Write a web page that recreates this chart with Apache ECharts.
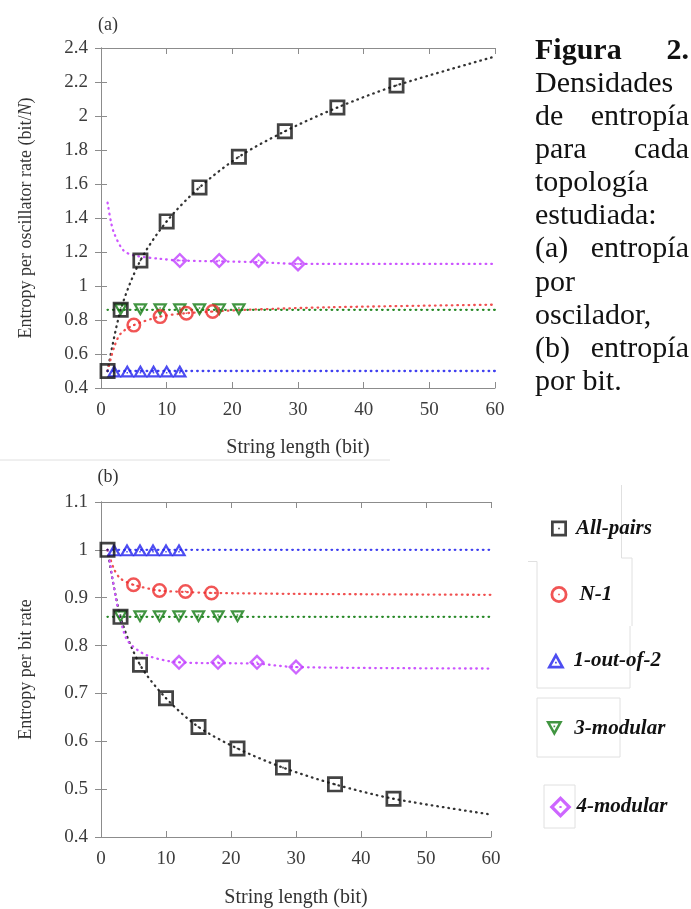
<!DOCTYPE html>
<html>
<head>
<meta charset="utf-8">
<script src="https://cdn.jsdelivr.net/npm/echarts@6/dist/echarts.min.js"></script>
<style>
html,body{margin:0;padding:0;background:#fff;}
#c{width:691px;height:909px;}
</style>
</head>
<body>
<div id="c"></div>
<script>
// ---------------- data ----------------
const xMin = 0, xMax = 60, xStep = 10;
const yMinA = 0.4, yMaxA = 2.4, yStepA = 0.2;
const yMinB = 0.4, yMaxB = 1.1, yStepB = 0.1;

const seriesNames = ['All-pairs', 'N-1', '1-out-of-2', '3-modular', '4-modular'];

const allPairsX = [1, 3, 6, 10, 15, 21, 28, 36, 45];
const allPairsA = [0.50, 0.86, 1.15, 1.38, 1.58, 1.76, 1.91, 2.05, 2.18];
const allPairsB = [1.00, 0.86, 0.76, 0.69, 0.63, 0.585, 0.545, 0.51, 0.48];

const n1X = [5, 9, 13, 17];
const n1A = [0.77, 0.82, 0.84, 0.85];
const n1B = [0.927, 0.915, 0.913, 0.910];

const oneOutX = [2, 4, 6, 8, 10, 12];
const oneOutA = [0.5, 0.5, 0.5, 0.5, 0.5, 0.5];
const oneOutB = [1.0, 1.0, 1.0, 1.0, 1.0, 1.0];

const threeModX = [3, 6, 9, 12, 15, 18, 21];
const threeModA = [0.86, 0.86, 0.86, 0.86, 0.86, 0.86, 0.86];
const threeModB = [0.86, 0.86, 0.86, 0.86, 0.86, 0.86, 0.86];

const fourModX = [12, 18, 24, 30];
const fourModA = [1.15, 1.15, 1.15, 1.13];
const fourModB = [0.765, 0.765, 0.765, 0.755];

// dotted fit curves
const fitAllPairsA = [[1,0.5],[3,0.86],[6,1.15],[10,1.38],[15,1.58],[21,1.76],[28,1.91],[36,2.05],[45,2.18],[60,2.35]];
const fitN1A = [[1,0.5],[2,0.64],[3,0.72],[5,0.77],[9,0.82],[13,0.84],[17,0.85],[22,0.86],[35,0.875],[60,0.89]];
const fitOneOutA = [[1,0.5],[60,0.5]];
const fitThreeModA = [[1,0.86],[60,0.86]];
const fitFourModA = [[1,1.49],[1.5,1.38],[2,1.31],[3.4,1.21],[5,1.18],[9,1.16],[12,1.15],[24,1.14],[30,1.13],[60,1.13]];

const fitAllPairsB = [[1,1.0],[3,0.86],[6,0.76],[10,0.69],[15,0.63],[21,0.585],[28,0.545],[36,0.51],[45,0.48],[60,0.447]];
const fitN1B = [[1,1.0],[2,0.96],[3,0.94],[5,0.927],[9,0.915],[13,0.912],[17,0.91],[30,0.908],[60,0.906]];
const fitOneOutB = [[1,1.0],[60,1.0]];
const fitThreeModB = [[1,0.86],[60,0.86]];
const fitFourModB = [[1,1.0],[1.4,0.97],[2.2,0.905],[3.2,0.843],[4.2,0.808],[7,0.78],[12,0.765],[24,0.762],[30,0.755],[60,0.752]];

const captionLines = [
  ['Figura', '2.', true],
  ['Densidades', '', false],
  ['de', 'entropía', false],
  ['para', 'cada', false],
  ['topología', '', false],
  ['estudiada:', '', false],
  ['(a)', 'entropía', false],
  ['por', '', false],
  ['oscilador,', '', false],
  ['(b)', 'entropía', false],
  ['por bit.', '', false]
];

// ---------------- styles ----------------
const colors = {
  'All-pairs': '#141414',
  'N-1': '#ee2a2a',
  '1-out-of-2': '#2020ee',
  '3-modular': '#127a12',
  '4-modular': '#c040ff'
};
const fitColors = {
  'All-pairs': '#333333',
  'N-1': '#f05050',
  '1-out-of-2': '#4040f0',
  '3-modular': '#2a8a2a',
  '4-modular': '#cc55ff'
};
const symbols = {
  'All-pairs': 'path://M0,0H20V20H0Z M3.4,3.4V16.6H16.6V3.4Z M9,9H11V11H9Z',
  'N-1': 'path://M10,0A10,10 0 1,1 10,20A10,10 0 1,1 10,0Z M10,3.3A6.7,6.7 0 1,0 10,16.7A6.7,6.7 0 1,0 10,3.3Z M9,9H11V11H9Z',
  '1-out-of-2': 'path://M10,0L20,18L0,18Z M10,6.2L5.1,15L14.9,15Z M9,10.5H11V12.5H9Z',
  '3-modular': 'path://M0,0L20,0L10,18Z M5.1,3L10,11.8L14.9,3Z M9,5.5H11V7.5H9Z',
  '4-modular': 'path://M10,0L20,10L10,20L0,10Z M10,4.2L4.2,10L10,15.8L15.8,10Z M9,9H11V11H9Z'
};
const symSize = {
  'All-pairs': 16, 'N-1': 15, '1-out-of-2': [15, 13], '3-modular': [15, 13], '4-modular': 16
};

const serif = '"Liberation Serif", "DejaVu Serif", serif';
const axisGray = '#8c8c8c';
const labelColor = '#3c3c3c';

const chart = echarts.init(document.getElementById('c'), null, {renderer: 'canvas'});

function zip(xs, ys) { return xs.map((x, i) => [x, ys[i]]); }

function xAxes(gridIndex, nameGap) {
  const base = {
    gridIndex, type: 'value', min: xMin, max: xMax, interval: xStep,
    axisLine: {show: true, lineStyle: {color: axisGray, width: 1}},
    axisTick: {show: true, inside: true, length: 6, lineStyle: {color: axisGray}},
    splitLine: {show: false}
  };
  return [
    Object.assign({}, base, {
      position: 'bottom',
      axisLabel: {color: labelColor, fontFamily: serif, fontSize: 19, margin: 13},
      name: 'String length (bit)', nameLocation: 'middle', nameGap: nameGap,
      nameTextStyle: {color: '#333', fontFamily: serif, fontSize: 20}
    }),
    Object.assign({}, base, {position: 'top', axisLabel: {show: false}})
  ];
}
function yAxes(gridIndex, mn, mx, st, nameRich) {
  const base = {
    gridIndex, type: 'value', min: mn, max: mx, interval: st,
    axisLine: {show: true, lineStyle: {color: axisGray, width: 1}},
    axisTick: {show: true, inside: true, length: 6, lineStyle: {color: axisGray}},
    splitLine: {show: false}
  };
  return [
    Object.assign({}, base, {
      position: 'left',
      axisLabel: {color: labelColor, fontFamily: serif, fontSize: 19, margin: 13},
      name: nameRich.text, nameLocation: 'middle', nameGap: 66, nameRotate: 90,
      nameTextStyle: {color: '#333', fontFamily: serif, fontSize: 18, rich: nameRich.rich}
    }),
    Object.assign({}, base, {position: 'right', axisLabel: {show: false}})
  ];
}

const series = [];
function addPanel(xi, yi, fits, marks) {
  seriesNames.forEach((n) => {
    series.push({
      type: 'line', name: 'fit ' + n + ' ' + xi, xAxisIndex: xi, yAxisIndex: yi,
      data: fits[n], showSymbol: false, symbol: 'none', smooth: 0.3,
      lineStyle: {color: fitColors[n], width: 2.3, type: [0.6, 5.0], cap: 'round'},
      silent: true, z: 2
    });
  });
  ['1-out-of-2', '3-modular', 'N-1', '4-modular', 'All-pairs'].forEach((n) => {
    series.push({
      type: 'scatter', name: n, xAxisIndex: xi, yAxisIndex: yi,
      data: marks[n], symbol: symbols[n], symbolSize: symSize[n],
      itemStyle: {color: colors[n]}, z: 3
    });
  });
}
addPanel(0, 0,
  {'All-pairs': fitAllPairsA, 'N-1': fitN1A, '1-out-of-2': fitOneOutA, '3-modular': fitThreeModA, '4-modular': fitFourModA},
  {'All-pairs': zip(allPairsX, allPairsA), 'N-1': zip(n1X, n1A), '1-out-of-2': zip(oneOutX, oneOutA), '3-modular': zip(threeModX, threeModA), '4-modular': zip(fourModX, fourModA)});
addPanel(2, 2,
  {'All-pairs': fitAllPairsB, 'N-1': fitN1B, '1-out-of-2': fitOneOutB, '3-modular': fitThreeModB, '4-modular': fitFourModB},
  {'All-pairs': zip(allPairsX, allPairsB), 'N-1': zip(n1X, n1B), '1-out-of-2': zip(oneOutX, oneOutB), '3-modular': zip(threeModX, threeModB), '4-modular': zip(fourModX, fourModB)});

const legendPos = [
  {name: 'All-pairs', left: 551, top: 518, w: 16, h: 16, pad: 4},
  {name: 'N-1', left: 550.5, top: 584, w: 17, h: 17, pad: 7},
  {name: '1-out-of-2', left: 547, top: 650, w: 21, h: 16, pad: 2},
  {name: '3-modular', left: 546, top: 718, w: 20, h: 15, pad: 5},
  {name: '4-modular', left: 549.5, top: 796, w: 22, h: 23, pad: 0}
];
const legends = legendPos.map((p) => ({
  data: [p.name], left: p.left, top: p.top, padding: 0, itemWidth: p.w, itemHeight: p.h,
  selectedMode: false,
  textStyle: {fontFamily: serif, fontSize: 21, fontWeight: 'bold', fontStyle: 'italic', color: '#111', padding: [0, 0, 0, p.pad]}
}));

const graphics = [];
const capLeft = 535, capRight = 689, capTop = 51, capStep = 33.1;
captionLines.forEach((ln, i) => {
  const font = (ln[2] ? 'bold ' : '') + '30px ' + serif;
  graphics.push({type: 'text', silent: true, z: 10,
    style: {text: ln[0], x: capLeft, y: capTop + capStep * i, font: font, fill: '#111', textAlign: 'left', verticalAlign: 'middle', textVerticalAlign: 'middle'}});
  if (ln[1]) {
    graphics.push({type: 'text', silent: true, z: 10,
      style: {text: ln[1], x: capRight, y: capTop + capStep * i, font: font, fill: '#111', textAlign: 'right', verticalAlign: 'middle', textVerticalAlign: 'middle'}});
  }
});
graphics.push({type: 'text', silent: true, style: {text: '(a)', x: 108, y: 25, font: '18px ' + serif, fill: '#333', textAlign: 'center', verticalAlign: 'middle', textVerticalAlign: 'middle'}});
graphics.push({type: 'text', silent: true, style: {text: '(b)', x: 108, y: 477, font: '18px ' + serif, fill: '#333', textAlign: 'center', verticalAlign: 'middle', textVerticalAlign: 'middle'}});
const faint = [
  [[0, 460], [390, 460]],
  [[621.5, 485], [621.5, 558], [632, 558], [632, 626]],
  [[528, 561.5], [537, 561.5], [537, 688], [630, 688], [630, 626]],
  [[537, 698], [620, 698], [620, 757], [537, 757], [537, 698]],
  [[544, 785], [575, 785], [575, 828], [544, 828], [544, 785]]
];
faint.forEach(pts => graphics.push({type: 'polyline', silent: true, z: 0, shape: {points: pts}, style: {stroke: '#e0e0e0', lineWidth: 1, fill: null}}));

const option = {
  backgroundColor: '#fff',
  animation: false,
  grid: [
    {left: 101, top: 48, width: 394, height: 340, show: false},
    {left: 101, top: 502, width: 390, height: 339, show: false}
  ],
  xAxis: [].concat(xAxes(0, 50), xAxes(1, 51)),
  yAxis: [].concat(
    yAxes(0, yMinA, yMaxA, yStepA, {text: '{a|Entropy per oscillator rate (bit/}{i|N}{a|)}', rich: {a: {fontFamily: serif, fontSize: 18, color: '#333'}, i: {fontFamily: serif, fontSize: 18, fontStyle: 'italic', color: '#333'}}}),
    yAxes(1, yMinB, yMaxB, yStepB, {text: 'Entropy per bit rate', rich: {}})
  ),
  legend: legends,
  series: series,
  graphic: graphics
};
chart.setOption(option);
</script>
</body>
</html>
